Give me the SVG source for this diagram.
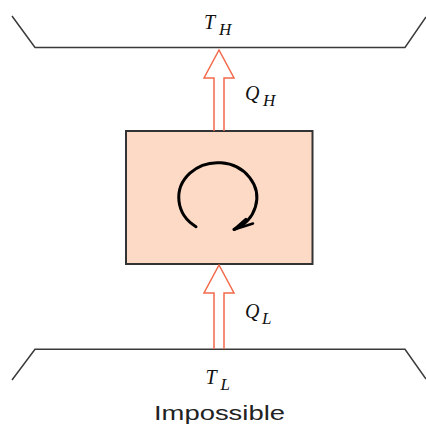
<svg xmlns="http://www.w3.org/2000/svg" width="426" height="426" viewBox="0 0 426 426">
<style>
.res{fill:none;stroke:#3a3a3a;stroke-width:1.5}
.arr{fill:none;stroke:#f26a4b;stroke-width:1.5;stroke-linejoin:miter}
.m{font-family:"Liberation Serif","Times New Roman",serif;font-style:italic;fill:#111}
.big{font-size:20px}
.sub{font-size:17px}
.lbl{font-family:"Liberation Sans",Arial,sans-serif;font-size:21px;fill:#222}
</style>
<rect width="426" height="426" fill="#fff"/>
<g id="hot-reservoir">
<path class="res" d="M12,16 L35,47.5 H405 L426,17"/>
<text class="m big" x="204" y="28.5">T</text>
<text class="m sub" x="219" y="35">H</text>
</g>
<g id="cold-reservoir">
<path class="res" d="M12,380 L35,349.3 H405 L426,379"/>
<text class="m big" x="205.5" y="383.5">T</text>
<text class="m sub" x="220.5" y="390">L</text>
</g>
<g id="engine">
<rect x="126" y="131" width="186.5" height="133" fill="#fddac6" stroke="#333" stroke-width="2"/>
<path d="M196,226.7 A39,35 0 1 1 234,229.5" fill="none" stroke="#000" stroke-width="3" stroke-linecap="round"/>
<path d="M234,229.5 L253,223.5 M234,229.5 L246,219" fill="none" stroke="#000" stroke-width="2.5" stroke-linecap="round"/>
</g>
<g id="connectors">
<path class="arr" d="M214,131 V78 H204 L219,50 L234,78 H224 V131"/>
<path class="arr" d="M214,349 V293 H204 L219,265 L234,293 H224 V349"/>
<text class="m big" x="245" y="100">Q</text>
<text class="m sub" x="263" y="105.5">H</text>
<text class="m big" x="245" y="318">Q</text>
<text class="m sub" x="262" y="323.5">L</text>
</g>
<text class="lbl" x="154" y="420" textLength="131" lengthAdjust="spacingAndGlyphs">Impossible</text>
</svg>
